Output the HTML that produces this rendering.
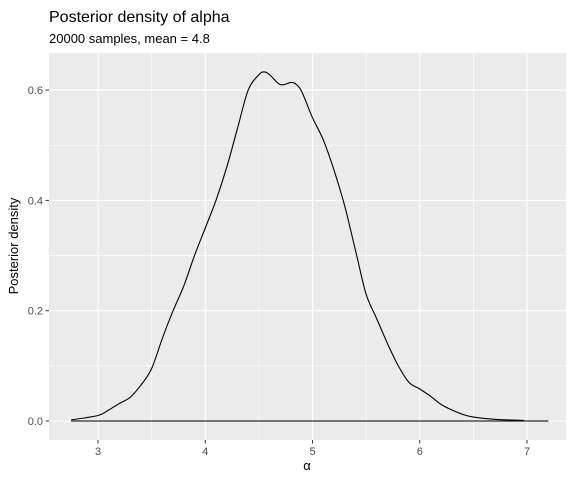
<!DOCTYPE html>
<html><head><meta charset="utf-8"><style>
body{margin:0;background:#fff;font-family:"Liberation Sans",sans-serif}
</style></head><body>
<svg id="c" width="576" height="480" xmlns="http://www.w3.org/2000/svg">
<rect width="576" height="480" fill="#fff"/>
<text x="49" y="22" font-size="16" fill="#000">Posterior density of alpha</text>
<text x="49" y="43" font-size="13" fill="#000">20000 samples, mean = 4.8</text>
<rect x="49" y="53" width="517" height="387" fill="#ebebeb"/>
<g id="grid"></g>
<g id="axes"></g>
<path id="curve" fill="none" stroke="#000" stroke-width="1.1"/>
<line id="base" stroke="#000" stroke-width="1.1"/>
<text x="307" y="470" font-size="13" text-anchor="middle">α</text>
<text transform="translate(18,246) rotate(-90)" font-size="13" text-anchor="middle">Posterior density</text>
</svg>
<script>
const xs=[2.75,3.0,3.1,3.2,3.3,3.4,3.5,3.6,3.7,3.8,3.9,4.0,4.1,4.2,4.3,4.4,4.5,4.55,4.6,4.7,4.8,4.85,4.9,5.0,5.1,5.2,5.3,5.4,5.5,5.6,5.7,5.8,5.9,6.0,6.1,6.2,6.3,6.4,6.5,6.7,6.97];
const dens=[0.002,0.01,0.02,0.032,0.043,0.065,0.095,0.15,0.2,0.245,0.3,0.35,0.4,0.46,0.53,0.6,0.628,0.633,0.628,0.61,0.614,0.61,0.597,0.55,0.51,0.455,0.39,0.31,0.23,0.185,0.14,0.1,0.07,0.058,0.045,0.03,0.02,0.012,0.007,0.003,0.001];
const xTicks=[3,4,5,6,7];
const yTicks=[0,0.2,0.4,0.6];
const xRange=[2.75,7.2];
const NS="http://www.w3.org/2000/svg";
const X=v=>98+(v-3)*107.25, Y=v=>421-v*551.5;
const grid=document.getElementById('grid'), axes=document.getElementById('axes');
function mk(tag,at,par){const e=document.createElementNS(NS,tag);for(const k in at)e.setAttribute(k,at[k]);par.appendChild(e);return e;}
xTicks.forEach((t,i)=>{
 if(i<xTicks.length-1){const m=mk('line',{x1:X(t+0.5),x2:X(t+0.5),y1:53,y2:440,stroke:'#fff','stroke-width':0.6},grid);
 
 }
 const g=mk('line',{x1:X(t),x2:X(t),y1:53,y2:440,stroke:'#fff','stroke-width':1.1},grid);
 
 
 mk('line',{x1:X(t),x2:X(t),y1:440,y2:443.5,stroke:'#333'},axes);
 const l=mk('text',{x:X(t),y:455,'font-size':11,fill:'#4d4d4d','text-anchor':'middle'},axes);
 l.textContent=t;
 
 
});
yTicks.forEach((t,i)=>{
 if(i<yTicks.length-1){const m=mk('line',{x1:49,x2:566,y1:Y(t+0.1),y2:Y(t+0.1),stroke:'#fff','stroke-width':0.6},grid);
 
 }
 const g=mk('line',{x1:49,x2:566,y1:Y(t),y2:Y(t),stroke:'#fff','stroke-width':1.1},grid);
 
 
 mk('line',{x1:45.5,x2:49,y1:Y(t),y2:Y(t),stroke:'#333'},axes);
 const l=mk('text',{x:43,y:Y(t)+4,'font-size':11,fill:'#4d4d4d','text-anchor':'end'},axes);
 l.textContent=t.toFixed(1);
 
 
});
const P=xs.map((x,i)=>[X(x),Y(dens[i])]);
let d='M'+P[0][0].toFixed(1)+','+P[0][1].toFixed(1);
for(let i=0;i<P.length-1;i++){
 const p0=P[Math.max(0,i-1)],p1=P[i],p2=P[i+1],p3=P[Math.min(P.length-1,i+2)];
 const c1=[p1[0]+(p2[0]-p0[0])/6,p1[1]+(p2[1]-p0[1])/6],c2=[p2[0]-(p3[0]-p1[0])/6,p2[1]-(p3[1]-p1[1])/6];
 d+='C'+c1.map(v=>v.toFixed(1))+' '+c2.map(v=>v.toFixed(1))+' '+p2.map(v=>v.toFixed(1));
}
document.getElementById('curve').setAttribute('d',d);
const b=document.getElementById('base');
b.setAttribute('x1',X(xRange[0]));b.setAttribute('x2',X(xRange[1]));b.setAttribute('y1',Y(0));b.setAttribute('y2',Y(0));
</script>
</body></html>
